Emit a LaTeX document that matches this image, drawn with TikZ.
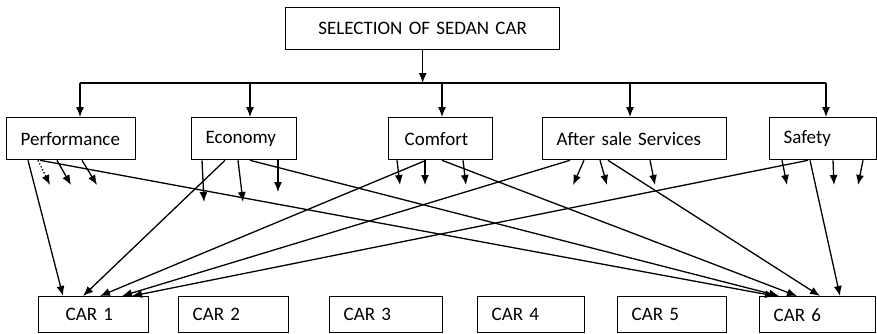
\documentclass[tikz,border=0pt]{standalone}
\usepackage{fontspec}
\setmainfont{Carlito}
\usetikzlibrary{arrows.meta}

\begin{document}
\begin{tikzpicture}[x=1pt,y=-1pt,line width=1.3pt]
\tikzset{
box/.style={draw,anchor=north west,inner xsep=14pt,inner ysep=0pt,align=left,minimum height=42pt},
car/.style={box,minimum height=36pt},
edge/.style={-{Latex[length=10pt,width=8pt]}},
font={\fontsize{19}{22}\selectfont}
}
\useasboundingbox (0,0) rectangle (877,333);

% goal
\node[box,text width=246pt,align=center] (goal) at (285,7) {SELECTION OF SEDAN CAR};

% criteria
\node[box,text width=101pt] (perf) at (6,117) {Performance};
\node[box,text width=77pt] (econ) at (191,117) {Economy};
\node[box,text width=72pt,inner xsep=16pt] (comf) at (388,117) {Comfort};
\node[box,text width=156pt] (serv) at (542,117) {After sale Services};
\node[box,text width=79pt] (safe) at (769,117) {Safety};

% alternatives
\node[car,text width=82pt] (car1) at (38,296) {\hspace*{13pt}CAR 1};
\node[car,text width=82pt] (car2) at (178,296) {CAR 2};
\node[car,text width=85pt] (car3) at (329,296) {CAR 3};
\node[car,text width=79pt] (car4) at (477,296) {CAR 4};
\node[car,text width=81pt] (car5) at (617,296) {CAR 5};
\node[car,text width=88pt] (car6) at (759,296) {CAR 6};

% bus under the goal
\coordinate (b1) at (80,83);
\coordinate (b2) at (250,83);
\coordinate (b3) at (442,83);
\coordinate (b4) at (630,83);
\coordinate (b5) at (826,83);
\draw (b1) -- (b5);

\path[edge]
 (goal.south) edge (goal.south |- b1)
 (b1) edge (perf.north -| b1)
 (b2) edge (econ.north -| b2)
 (b3) edge (comf.north -| b3)
 (b4) edge (serv.north -| b4)
 (b5) edge (safe.north -| b5)
;

% short stubs
\coordinate (p1) at (50,185);
\coordinate (p2) at (71,185);
\coordinate (p3) at (97,185);
\coordinate (e1) at (204,202);
\coordinate (e2) at (243,202);
\coordinate (e3) at (278,192);
\coordinate (c1) at (400,185);
\coordinate (c2) at (425,185);
\coordinate (c3) at (466,185);
\coordinate (s1) at (573,185);
\coordinate (s2) at (607,185);
\coordinate (s3) at (655,185);
\coordinate (f1) at (787,185);
\coordinate (f2) at (834,185);
\coordinate (f3) at (858,185);

\path[edge]
 ([xshift=32pt]perf.south west) edge[dotted] (p1)
 ([xshift=51pt]perf.south west) edge (p2)
 ([xshift=76pt]perf.south west) edge (p3)

 ([xshift=11pt]econ.south west) edge (e1)
 ([xshift=47pt]econ.south west) edge (e2)
 ([xshift=87pt]econ.south west) edge (e3)

 ([xshift=9pt]comf.south west) edge (c1)
 ([xshift=37pt]comf.south west) edge (c2)
 ([xshift=75pt]comf.south west) edge (c3)

 ([xshift=42pt]serv.south west) edge (s1)
 ([xshift=58pt]serv.south west) edge (s2)
 ([xshift=108pt]serv.south west) edge (s3)

 ([xshift=13pt]safe.south west) edge (f1)
 ([xshift=64pt]safe.south west) edge (f2)
 ([xshift=94pt]safe.south west) edge (f3)
;

% criteria to CAR 1 and CAR 6
\path[edge]
 ([xshift=22pt]perf.south west) edge ([xshift=25pt]car1.north west)
 ([xshift=34pt]perf.south west) edge ([xshift=16pt]car6.north west)

 ([xshift=34pt]econ.south west) edge ([xshift=45pt]car1.north west)
 ([xshift=59pt]econ.south west) edge ([xshift=20pt]car6.north west)

 ([xshift=38pt]comf.south west) edge ([xshift=62pt]car1.north west)
 ([xshift=54pt]comf.south west) edge ([xshift=38pt]car6.north west)

 ([xshift=28pt]serv.south west) edge ([xshift=84pt]car1.north west)
 ([xshift=66pt]serv.south west) edge ([xshift=61pt]car6.north west)

 ([xshift=39pt]safe.south west) edge ([xshift=94pt]car1.north west)
 ([xshift=41pt]safe.south west) edge ([xshift=81pt]car6.north west)
;
\end{tikzpicture}
\end{document}
